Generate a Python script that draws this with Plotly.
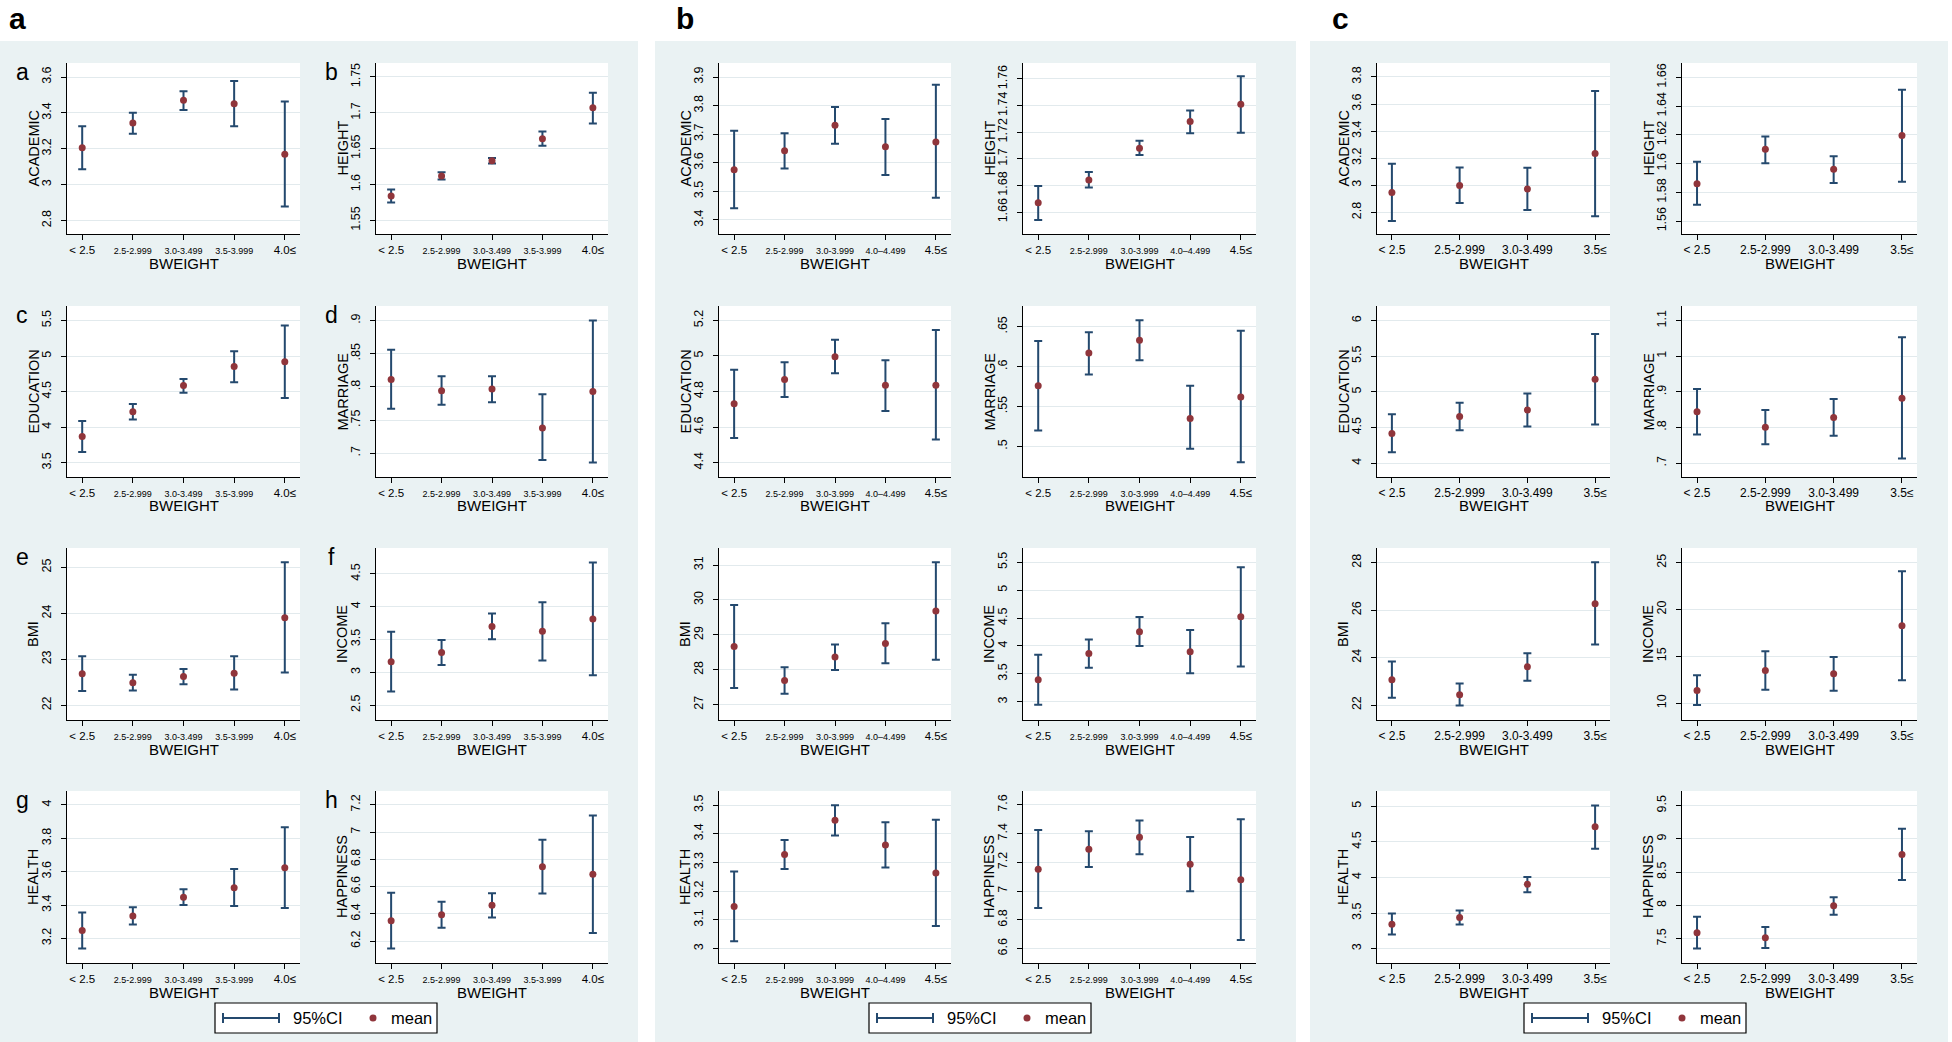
import plotly.graph_objects as go

# ---------------- data ----------------
VARS = ["ACADEMIC", "HEIGHT", "EDUCATION", "MARRIAGE", "BMI", "INCOME", "HEALTH", "HAPPINESS"]
LETTERS = ["a", "b", "c", "d", "e", "f", "g", "h"]

CATS_A = ["< 2.5", "2.5-2.999", "3.0-3.499", "3.5-3.999", "4.0≤"]
CATS_B = ["< 2.5", "2.5-2.999", "3.0-3.999", "4.0–4.499", "4.5≤"]
CATS_C = ["< 2.5", "2.5-2.999", "3.0-3.499", "3.5≤"]

A_MEAN = {
    "ACADEMIC": [3.206, 3.343, 3.470, 3.451, 3.170],
    "HEIGHT": [1.584, 1.612, 1.633, 1.664, 1.707],
    "EDUCATION": [3.871, 4.219, 4.586, 4.855, 4.920],
    "MARRIAGE": [0.811, 0.794, 0.797, 0.738, 0.793],
    "BMI": [22.683, 22.489, 22.626, 22.698, 23.906],
    "INCOME": [3.160, 3.301, 3.699, 3.623, 3.810],
    "HEALTH": [3.248, 3.335, 3.447, 3.504, 3.624],
    "HAPPINESS": [6.349, 6.393, 6.463, 6.746, 6.690],
}
A_LO = {
    "ACADEMIC": [3.086, 3.284, 3.416, 3.325, 2.878],
    "HEIGHT": [1.575, 1.607, 1.6295, 1.654, 1.685],
    "EDUCATION": [3.653, 4.108, 4.484, 4.632, 4.410],
    "MARRIAGE": [0.767, 0.773, 0.777, 0.690, 0.686],
    "BMI": [22.309, 22.324, 22.460, 22.345, 22.712],
    "INCOME": [2.707, 3.110, 3.503, 3.180, 2.953],
    "HEALTH": [3.140, 3.284, 3.401, 3.395, 3.383],
    "HAPPINESS": [6.146, 6.298, 6.373, 6.549, 6.259],
}
A_HI = {
    "ACADEMIC": [3.325, 3.401, 3.520, 3.578, 3.464],
    "HEIGHT": [1.593, 1.617, 1.637, 1.674, 1.728],
    "EDUCATION": [4.089, 4.326, 4.679, 5.068, 5.430],
    "MARRIAGE": [0.856, 0.816, 0.816, 0.789, 0.900],
    "BMI": [23.065, 22.662, 22.791, 23.065, 25.108],
    "INCOME": [3.618, 3.492, 3.895, 4.067, 4.671],
    "HEALTH": [3.355, 3.387, 3.495, 3.616, 3.867],
    "HAPPINESS": [6.554, 6.488, 6.551, 6.944, 7.122],
}

B_MEAN = {
    "ACADEMIC": [3.576, 3.642, 3.731, 3.656, 3.673],
    "HEIGHT": [1.667, 1.684, 1.708, 1.728, 1.741],
    "EDUCATION": [4.731, 4.867, 4.996, 4.835, 4.835],
    "MARRIAGE": [0.576, 0.617, 0.633, 0.535, 0.562],
    "BMI": [28.668, 27.692, 28.365, 28.754, 29.682],
    "INCOME": [3.397, 3.865, 4.256, 3.895, 4.523],
    "HEALTH": [3.147, 3.328, 3.447, 3.361, 3.263],
    "HAPPINESS": [7.152, 7.291, 7.375, 7.187, 7.080],
}
B_LO = {
    "ACADEMIC": [3.441, 3.580, 3.667, 3.557, 3.478],
    "HEIGHT": [1.654, 1.6785, 1.7028, 1.7193, 1.7195],
    "EDUCATION": [4.539, 4.769, 4.902, 4.691, 4.530],
    "MARRIAGE": [0.520, 0.590, 0.608, 0.497, 0.480],
    "BMI": [27.474, 27.313, 27.995, 28.185, 28.289],
    "INCOME": [2.947, 3.610, 4.000, 3.510, 3.634],
    "HEALTH": [3.026, 3.277, 3.394, 3.283, 3.079],
    "HAPPINESS": [6.883, 7.168, 7.257, 6.999, 6.660],
}
B_HI = {
    "ACADEMIC": [3.712, 3.703, 3.795, 3.753, 3.873],
    "HEIGHT": [1.6795, 1.690, 1.7135, 1.7363, 1.762],
    "EDUCATION": [4.922, 4.965, 5.091, 4.976, 5.146],
    "MARRIAGE": [0.632, 0.643, 0.658, 0.576, 0.645],
    "BMI": [29.853, 28.071, 28.725, 29.332, 31.085],
    "INCOME": [3.841, 4.114, 4.517, 4.286, 5.411],
    "HEALTH": [3.269, 3.378, 3.499, 3.440, 3.449],
    "HAPPINESS": [7.426, 7.417, 7.491, 7.377, 7.500],
}

C_MEAN = {
    "ACADEMIC": [2.947, 2.999, 2.972, 3.235],
    "HEIGHT": [1.586, 1.610, 1.596, 1.6195],
    "EDUCATION": [4.417, 4.653, 4.745, 5.176],
    "MARRIAGE": [0.844, 0.801, 0.828, 0.882],
    "BMI": [23.063, 22.434, 23.608, 26.266],
    "INCOME": [11.348, 13.475, 13.121, 18.262],
    "HEALTH": [3.345, 3.438, 3.904, 4.711],
    "HAPPINESS": [7.590, 7.515, 7.994, 8.767],
}
C_LO = {
    "ACADEMIC": [2.736, 2.869, 2.817, 2.771],
    "HEIGHT": [1.5714, 1.6002, 1.5865, 1.5874],
    "EDUCATION": [4.153, 4.463, 4.514, 4.542],
    "MARRIAGE": [0.780, 0.753, 0.777, 0.713],
    "BMI": [22.308, 21.986, 23.021, 24.546],
    "INCOME": [9.787, 11.418, 11.312, 12.447],
    "HEALTH": [3.200, 3.340, 3.793, 4.403],
    "HAPPINESS": [7.355, 7.360, 7.859, 8.383],
}
C_HI = {
    "ACADEMIC": [3.159, 3.132, 3.129, 3.697],
    "HEIGHT": [1.6012, 1.6188, 1.6051, 1.6514],
    "EDUCATION": [4.685, 4.847, 4.977, 5.810],
    "MARRIAGE": [0.908, 0.849, 0.880, 1.053],
    "BMI": [23.832, 22.909, 24.182, 28.014],
    "INCOME": [12.98, 15.532, 14.929, 24.078],
    "HEALTH": [3.494, 3.536, 4.007, 5.009],
    "HAPPINESS": [7.829, 7.675, 8.123, 9.151],
}

# y tick values shown on each small chart
A_TICKS = {"ACADEMIC": [2.8, 3, 3.2, 3.4, 3.6], "HEIGHT": [1.55, 1.6, 1.65, 1.7, 1.75],
           "EDUCATION": [3.5, 4, 4.5, 5, 5.5], "MARRIAGE": [0.7, 0.75, 0.8, 0.85, 0.9],
           "BMI": [22, 23, 24, 25], "INCOME": [2.5, 3, 3.5, 4, 4.5],
           "HEALTH": [3.2, 3.4, 3.6, 3.8, 4], "HAPPINESS": [6.2, 6.4, 6.6, 6.8, 7, 7.2]}
B_TICKS = {"ACADEMIC": [3.4, 3.5, 3.6, 3.7, 3.8, 3.9], "HEIGHT": [1.66, 1.68, 1.7, 1.72, 1.74, 1.76],
           "EDUCATION": [4.4, 4.6, 4.8, 5, 5.2], "MARRIAGE": [0.5, 0.55, 0.6, 0.65],
           "BMI": [27, 28, 29, 30, 31], "INCOME": [3, 3.5, 4, 4.5, 5, 5.5],
           "HEALTH": [3, 3.1, 3.2, 3.3, 3.4, 3.5], "HAPPINESS": [6.6, 6.8, 7, 7.2, 7.4, 7.6]}
C_TICKS = {"ACADEMIC": [2.8, 3, 3.2, 3.4, 3.6, 3.8], "HEIGHT": [1.56, 1.58, 1.6, 1.62, 1.64, 1.66],
           "EDUCATION": [4, 4.5, 5, 5.5, 6], "MARRIAGE": [0.7, 0.8, 0.9, 1, 1.1],
           "BMI": [22, 24, 26, 28], "INCOME": [10, 15, 20, 25],
           "HEALTH": [3, 3.5, 4, 4.5, 5], "HAPPINESS": [7.5, 8, 8.5, 9, 9.5]}

# y axis extents
A_RANGE = {"ACADEMIC": [2.725, 3.678], "HEIGHT": [1.531, 1.7695], "EDUCATION": [3.30, 5.704],
           "MARRIAGE": [0.6642, 0.9219], "BMI": [21.68, 25.42], "INCOME": [2.273, 4.893],
           "HEALTH": [3.053, 4.0836], "HAPPINESS": [6.039, 7.302]}
B_RANGE = {"ACADEMIC": [3.351, 3.949], "HEIGHT": [1.6435, 1.772], "EDUCATION": [4.319, 5.281],
           "MARRIAGE": [0.4616, 0.676], "BMI": [26.56, 31.49], "INCOME": [2.674, 5.755],
           "HEALTH": [2.950, 3.549], "HAPPINESS": [6.500, 7.697]}
C_RANGE = {"ACADEMIC": [2.640, 3.903], "HEIGHT": [1.551, 1.670], "EDUCATION": [3.806, 6.204],
           "MARRIAGE": [0.661, 1.141], "BMI": [21.37, 28.615], "INCOME": [8.19, 26.56],
           "HEALTH": [2.80, 5.214], "HAPPINESS": [7.136, 9.719]}

# ---------------- styling / layout ----------------
NAVY = "#24496e"
MAROON = "#90353b"
BG = "#eaf2f3"
GRID = "#e2eaed"
FONT = "Liberation Sans, Arial, sans-serif"

W, H = 1952, 1042
PANEL_X = [(0, 638), (655, 1296), (1310, 1948)]
PANEL_TOP = 41
COL_X = [[(67, 300), (376, 608)], [(719, 951), (1023, 1256)], [(1377, 1610), (1682, 1917)]]
ROW_Y = [(63, 234), (306, 477), (548, 720), (791, 963)]
LEGEND_X = [215, 869, 1524]
LEGEND_Y = (1003, 1033)


def px(x):
    return x / W


def py(y):
    return 1 - y / H


def fmt(v):
    s = f"{v:g}"
    return s[1:] if s.startswith("0.") else s


def suffix(n):
    return "" if n == 1 else str(n)


def label(text, x, y, size, xanchor="center", angle=0):
    return dict(text=text, x=px(x), y=py(y), xref="paper", yref="paper", showarrow=False,
                xanchor=xanchor, yanchor="middle", textangle=angle,
                font=dict(family=FONT, size=size, color="black"))


panels = [
    ("a", CATS_A, A_MEAN, A_LO, A_HI, A_TICKS, A_RANGE, True),
    ("b", CATS_B, B_MEAN, B_LO, B_HI, B_TICKS, B_RANGE, True),
    ("c", CATS_C, C_MEAN, C_LO, C_HI, C_TICKS, C_RANGE, False),
]

fig = go.Figure()
shapes, annotations, axes = [], [], {}

for p, (plabel, cats, means, los, his, ticks, ranges, small_mid) in enumerate(panels):
    x0, x1 = PANEL_X[p]
    shapes.append(dict(type="rect", xref="paper", yref="paper", x0=px(x0), x1=px(x1),
                       y0=0, y1=py(PANEL_TOP), fillcolor=BG, line=dict(width=0), layer="below"))
    annotations.append(label("<b>%s</b>" % plabel, x0 + (17 if p == 0 else 30), 18, 30))

    n_cat = len(cats)
    if small_mid:
        ticktext = [c if i in (0, n_cat - 1) else '<span style="font-size:9px">%s</span>' % c
                    for i, c in enumerate(cats)]
        xtick_size = 11.5
    else:
        ticktext = cats
        xtick_size = 12

    for k, var in enumerate(VARS):
        row, col = divmod(k, 2)
        s = suffix(p * 8 + k + 1)
        cx0, cx1 = COL_X[p][col]
        ry0, ry1 = ROW_Y[row]
        m = means[var]
        err_hi = [h - v for h, v in zip(his[var], m)]
        err_lo = [v - lo for v, lo in zip(m, los[var])]
        fig.add_trace(go.Scatter(
            x=cats, y=m, mode="markers",
            marker=dict(color=MAROON, size=7),
            error_y=dict(type="data", symmetric=False, array=err_hi, arrayminus=err_lo,
                         color=NAVY, thickness=2, width=4),
            xaxis="x" + s, yaxis="y" + s, showlegend=False, hoverinfo="skip"))

        axes["xaxis" + s] = dict(
            domain=[px(cx0), px(cx1)], anchor="y" + s, type="category",
            categoryorder="array", categoryarray=cats,
            range=[-0.3, n_cat - 0.7] if n_cat == 5 else [-0.22, n_cat - 0.78],
            tickmode="array", tickvals=cats, ticktext=ticktext,
            tickfont=dict(family=FONT, size=xtick_size, color="black"),
            showline=True, linecolor="black", linewidth=1, ticks="outside", ticklen=5,
            tickcolor="black", showgrid=False, zeroline=False, fixedrange=True)
        axes["yaxis" + s] = dict(
            domain=[py(ry1), py(ry0)], anchor="x" + s, range=ranges[var],
            tickmode="array", tickvals=ticks[var], ticktext=[fmt(t) for t in ticks[var]],
            tickangle=-90, tickfont=dict(family=FONT, size=12.5, color="black"),
            showline=True, linecolor="black", linewidth=1, ticks="outside", ticklen=5,
            tickcolor="black", showgrid=True, gridcolor=GRID, gridwidth=1.2, zeroline=False,
            ticklabelstandoff=5, fixedrange=True)

        # white plot region
        shapes.append(dict(type="rect", xref="x%s domain" % s, yref="y%s domain" % s,
                           x0=0, x1=1, y0=0, y1=1, fillcolor="white",
                           line=dict(width=0), layer="below"))
        # axis titles
        annotations.append(label("BWEIGHT", (cx0 + cx1) / 2, ry1 + 29, 15))
        annotations.append(label(var, cx0 - 34, (ry0 + ry1) / 2, 14.5, angle=-90))
        if p == 0:
            annotations.append(label(LETTERS[k], cx0 - 45, ry0 + 9, 23))

    # legend box
    L = LEGEND_X[p]
    t, b = LEGEND_Y
    yc = (t + b) / 2
    shapes.append(dict(type="rect", xref="paper", yref="paper", x0=px(L), x1=px(L + 222),
                       y0=py(b), y1=py(t), fillcolor="white", line=dict(color="black", width=1.2)))
    shapes.append(dict(type="line", xref="paper", yref="paper", x0=px(L + 8), x1=px(L + 64),
                       y0=py(yc), y1=py(yc), line=dict(color=NAVY, width=2)))
    for cx in (L + 8, L + 64):
        shapes.append(dict(type="line", xref="paper", yref="paper", x0=px(cx), x1=px(cx),
                           y0=py(yc - 5), y1=py(yc + 5), line=dict(color=NAVY, width=2)))
    shapes.append(dict(type="circle", xref="paper", yref="paper", x0=px(L + 154.5), x1=px(L + 161.5),
                       y0=py(yc + 3.5), y1=py(yc - 3.5), fillcolor=MAROON, line=dict(width=0)))
    annotations.append(label("95%CI", L + 76, yc, 16.5, xanchor="left"))
    annotations.append(label("mean", L + 174, yc, 16.5, xanchor="left"))

fig.update_layout(
    width=W, height=H, margin=dict(l=0, r=0, t=0, b=0),
    paper_bgcolor="white", plot_bgcolor="white", showlegend=False,
    shapes=shapes, annotations=annotations, **axes)

fig.write_html("out.html", config={"displayModeBar": False},
               post_script="document.body.style.margin='0';document.body.style.overflow='hidden';")
